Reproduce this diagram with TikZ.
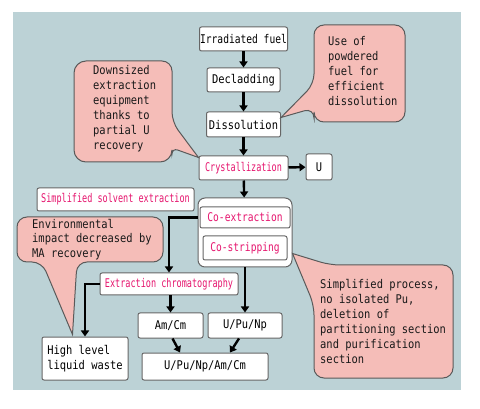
\documentclass[tikz,border=0pt]{standalone}
\usepackage{fontspec}
\usetikzlibrary{arrows.meta,calc}
\newfontfamily\gfont{DejaVu Sans Mono}[FakeStretch=0.87]
\newfontfamily\gnarrow{DejaVu Sans Mono}[FakeStretch=0.71]
\newfontfamily\gsemi{DejaVu Sans Mono}[FakeStretch=0.80]
\definecolor{panelbg}{HTML}{BCD2D6}
\definecolor{notefill}{HTML}{F5BDB8}
\definecolor{noteline}{HTML}{5A5A5A}
\definecolor{pinktxt}{HTML}{E6156E}

\begin{document}
\begin{tikzpicture}[x=1pt, y=-1pt,
    box/.style={draw=black!60, fill=white, line width=1pt, rounded corners=2pt, inner sep=0pt,
      font=\gfont\fontsize{12}{15}\selectfont},
    pbox/.style={box, text=pinktxt, font=\gnarrow\fontsize{12}{14}\selectfont},
    sbox/.style={box, text=pinktxt, font=\gsemi\fontsize{12}{14}\selectfont},
    arr/.style={line width=2.4pt, -{Triangle[length=6pt,width=8pt]}},
    note/.style={draw=noteline, fill=notefill, line width=1pt},
    notetext/.style={anchor=north west, inner sep=0pt, align=left, text=black!90,
      font=\gfont\fontsize{12}{15}\selectfont}]
    \useasboundingbox (0,0) rectangle (480,409);
    \fill[panelbg] (13,12) rectangle (461,390);

    % main line
    \node[box, minimum width=88pt, minimum height=24pt, font=\gsemi\fontsize{12}{14}\selectfont] (fuel) at (243.5,39) {Irradiated fuel};
    \node[box, minimum width=73pt, minimum height=24pt] (decl) at (243.5,80) {Decladding};
    \node[box, minimum width=74pt, minimum height=25pt] (diss) at (243.5,124.5) {Dissolution};
    \node[pbox, minimum width=89pt, minimum height=24pt] (cryst) at (243.5,168) {Crystallization};
    \node[box, minimum width=26pt, minimum height=26pt] (u) at (319,167) {U};
    \node[pbox, minimum width=157pt, minimum height=23pt] (sse) at (115.5,199.5) {Simplified solvent extraction};

    \node[box, rounded corners=7pt, minimum width=94pt, minimum height=69pt] (outer) at (245,232.5) {};
    \node[sbox, minimum width=90pt, minimum height=21pt] (coext) at (245,217.5) {Co-extraction};
    \node[sbox, minimum width=84pt, minimum height=24pt] (costrip) at (245,248) {Co-stripping};

    \node[pbox, minimum width=138pt, minimum height=22pt] (chrom) at (169,284) {Extraction chromatography};
    \node[box, minimum width=65pt, minimum height=25pt] (amcm) at (170.5,325.5) {Am/Cm};
    \node[box, minimum width=74pt, minimum height=25pt] (upunp) at (245,325.5) {U/Pu/Np};
    \node[box, minimum width=126pt, minimum height=27pt] (all) at (205,366.5) {U/Pu/Np/Am/Cm};
    \node[box, align=left, minimum width=86pt, minimum height=43pt] (hllw) at (85,358.5) {High level\\liquid waste};

    \draw[arr] (fuel) -- (decl);
    \draw[arr] (decl) -- (diss);
    \draw[arr] (diss) -- (cryst);
    \draw[arr] (cryst) -- (u);
    \draw[arr] (cryst) -- (outer);
    \draw[arr] (outer.west |- coext.west) -| (chrom.north);
    \draw[arr] (chrom.west) -| (hllw.north);
    \draw[arr] (amcm.north |- chrom.south) -- (amcm.north);
    \draw[arr] (outer.south -| upunp.north) -- (upunp.north);
    \draw[arr] ($(amcm.south)+(2,0)$) -- ($(all.north)+(-25,0)$);
    \draw[arr] ($(upunp.south)+(-6,0)$) -- ($(all.north)+(25,0)$);

    % callouts
    \draw[note] (123,61) [rounded corners=10pt] -- (172,61) -- (172,122) [sharp corners]
      -- ($(cryst.north west)+(0,2)$) [rounded corners=6pt] -- (172,148) [rounded corners=12pt] -- (172,162) -- (74,162) -- (74,61) -- cycle;
    \node[notetext] (noteA) at (93,65) {Downsized\\extraction\\equipment\\thanks to\\partial U\\recovery};

    \draw[note] (360,25) [rounded corners=10pt] -- (405,25) -- (405,122) -- (314,122) -- (314,108) [sharp corners]
      -- ($(diss.north east)+(0,6)$) [rounded corners=10pt] -- (314,84) -- (314,25) -- cycle;
    \node[notetext] (noteB) at (328,36) {Use of\\powdered\\fuel for\\efficient\\dissolution};

    \draw[note] (120,217) [rounded corners=10pt] -- (163,217) -- (163,262) -- (77,262) [sharp corners]
      -- ($(hllw.north west)+(31,-2)$) [rounded corners=10pt] -- (42,262) -- (17,262) -- (17,217) -- cycle;
    \node[notetext, font=\gfont\fontsize{12}{14.5}\selectfont] (noteC) at (32,219) {Environmental\\impact decreased by\\MA recovery};

    \draw[note] (453,320) [rounded corners=10pt] -- (453,378) -- (314,378) -- (314,305) [sharp corners]
      -- ($(outer.south east)+(0,-14)$) [rounded corners=10pt] -- (330,265) -- (453,265) -- cycle;
    \node[notetext] (noteD) at (320,279) {Simplified process,\\no isolated Pu,\\deletion of\\partitioning section\\and purification\\section};
  \end{tikzpicture}
\end{document}
